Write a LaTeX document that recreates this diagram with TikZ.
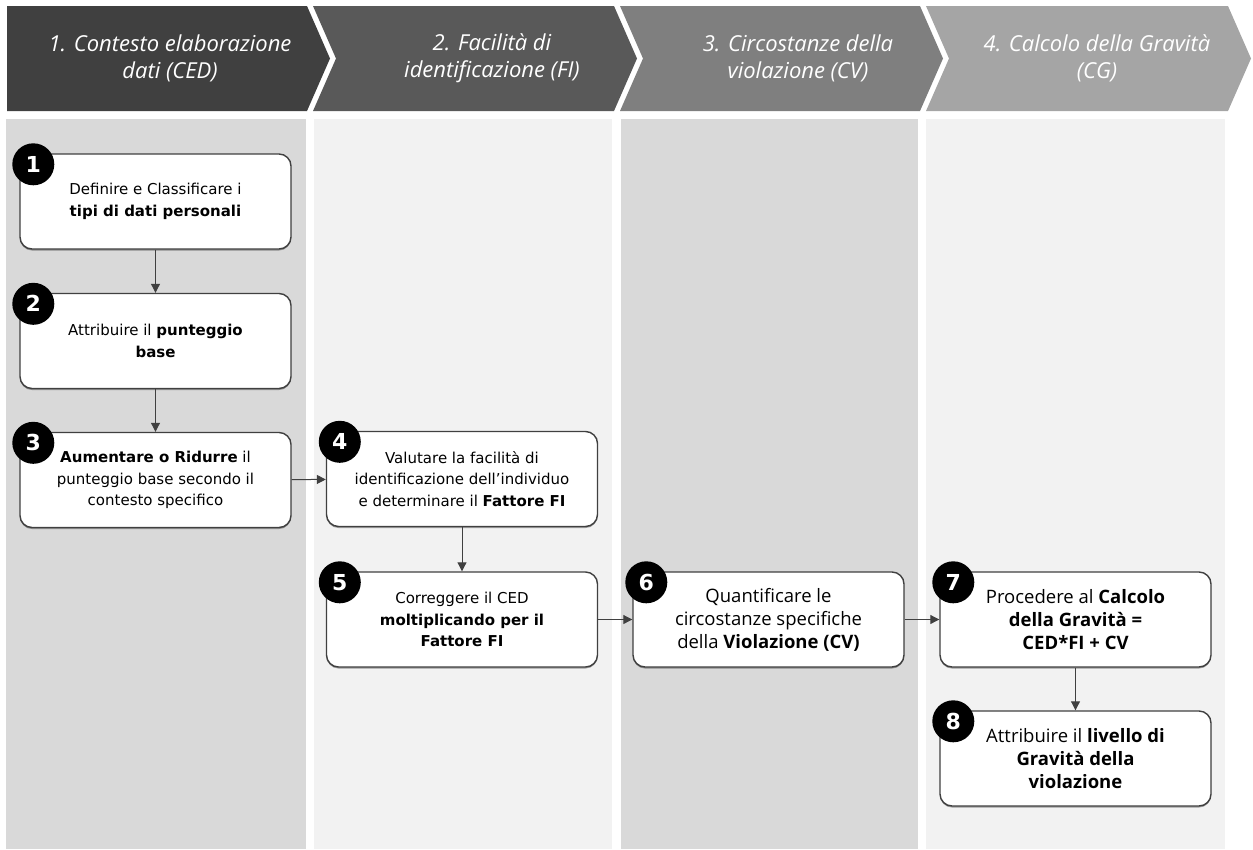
\documentclass[tikz,border=0pt]{standalone}
\usepackage{fontspec}
\setmainfont{DejaVu Sans}
\newfontfamily\segoe{Open Sans}
\usetikzlibrary{arrows.meta,shadows}
\definecolor{laneA}{HTML}{D9D9D9}
\definecolor{laneB}{HTML}{F2F2F2}
\definecolor{chevA}{HTML}{404040}
\definecolor{chevB}{HTML}{595959}
\definecolor{chevC}{HTML}{7F7F7F}
\definecolor{chevD}{HTML}{A5A5A5}
\definecolor{edge}{HTML}{404040}
\tikzset{
  headtext/.style={text=white, align=center, font=\segoe\itshape\fontsize{22}{27}\selectfont},
  stepbox/.style={draw=edge, line width=1.4pt, fill=white, rounded corners=12pt,
    minimum width=271pt, minimum height=95pt, align=center, inner sep=2pt,
    drop shadow={shadow xshift=0pt, shadow yshift=-1.5pt, opacity=0.35, fill=black},
    font=\fontsize{15}{21.5}\selectfont},
  segbox/.style={stepbox, font=\segoe\fontsize{18.5}{23}\selectfont},
  badge/.style={circle, fill=black, text=white, minimum size=42pt, inner sep=0pt,
    font=\bfseries\fontsize{22}{22}\selectfont},
  flow/.style={draw=edge, line width=1pt, -{Triangle[length=9pt,width=9pt]}},
}
\begin{document}
\begin{tikzpicture}[x=1pt,y=-1pt]
\useasboundingbox (0,0) rectangle (1253,849);
% lanes
\fill[laneA] (6,119) rectangle (306,849);
\fill[laneB] (314,119) rectangle (612,849);
\fill[laneA] (621,119) rectangle (918,849);
\fill[laneB] (926,119) rectangle (1225,849);
% chevrons
\fill[chevA] (7,6) -- (307,6) -- (330,58.5) -- (307,111) -- (7,111) -- cycle;
\fill[chevB] (313,6) -- (614,6) -- (637,58.5) -- (614,111) -- (313,111) -- (336,58.5) -- cycle;
\fill[chevC] (620,6) -- (920,6) -- (943,58.5) -- (920,111) -- (620,111) -- (643,58.5) -- cycle;
\fill[chevD] (926,6) -- (1228,6) -- (1251,58.5) -- (1228,111) -- (926,111) -- (949,58.5) -- cycle;
\node[headtext] (h1) at (170,58.5) {1. Contesto elaborazione\\dati (CED)};
\node[headtext] (h2) at (492,58.5) {2. Facilità di\\identificazione (FI)};
\node[headtext] (h3) at (798,58.5) {3. Circostanze della\\violazione (CV)};
\node[headtext] (h4) at (1097,58.5) {4. Calcolo della Gravità\\(CG)};
% boxes
\node[stepbox] (b1) at (155.5,201.5) {Definire e Classificare i\\\textbf{tipi di dati personali}};
\node[stepbox] (b2) at (155.5,341) {Attribuire il \textbf{punteggio}\\\textbf{base}};
\node[stepbox] (b3) at (155.5,480) {\textbf{Aumentare o Ridurre} il\\punteggio base secondo il\\contesto specifico};
\node[stepbox] (b4) at (462,479) {Valutare la facilità di\\identificazione dell’individuo\\e determinare il \textbf{Fattore FI}};
\node[stepbox] (b5) at (462,619.5) {Correggere il CED\\\textbf{moltiplicando per il}\\\textbf{Fattore FI}};
\node[segbox] (b6) at (768.5,619.5) {Quantificare le\\circostanze specifiche\\della \textbf{Violazione (CV)}};
\node[segbox] (b7) at (1075.5,619.5) {Procedere al \textbf{Calcolo}\\\textbf{della Gravità =}\\\textbf{CED*FI + CV}};
\node[segbox] (b8) at (1075.5,758.5) {Attribuire il \textbf{livello di}\\\textbf{Gravità della}\\\textbf{violazione}};
% badges
\foreach \b/\n in {b1/1,b2/2,b3/3,b4/4,b5/5,b6/6,b7/7,b8/8}
  \node[badge] (n\n) at ([shift={(14,11)}]\b.north west) {\n};
% connectors
\draw[flow] (b1) -- (b2);
\draw[flow] (b2) -- (b3);
\draw[flow] (b3) -- (b4);
\draw[flow] (b4) -- (b5);
\draw[flow] (b5) -- (b6);
\draw[flow] (b6) -- (b7);
\draw[flow] (b7) -- (b8);
\end{tikzpicture}
\end{document}
